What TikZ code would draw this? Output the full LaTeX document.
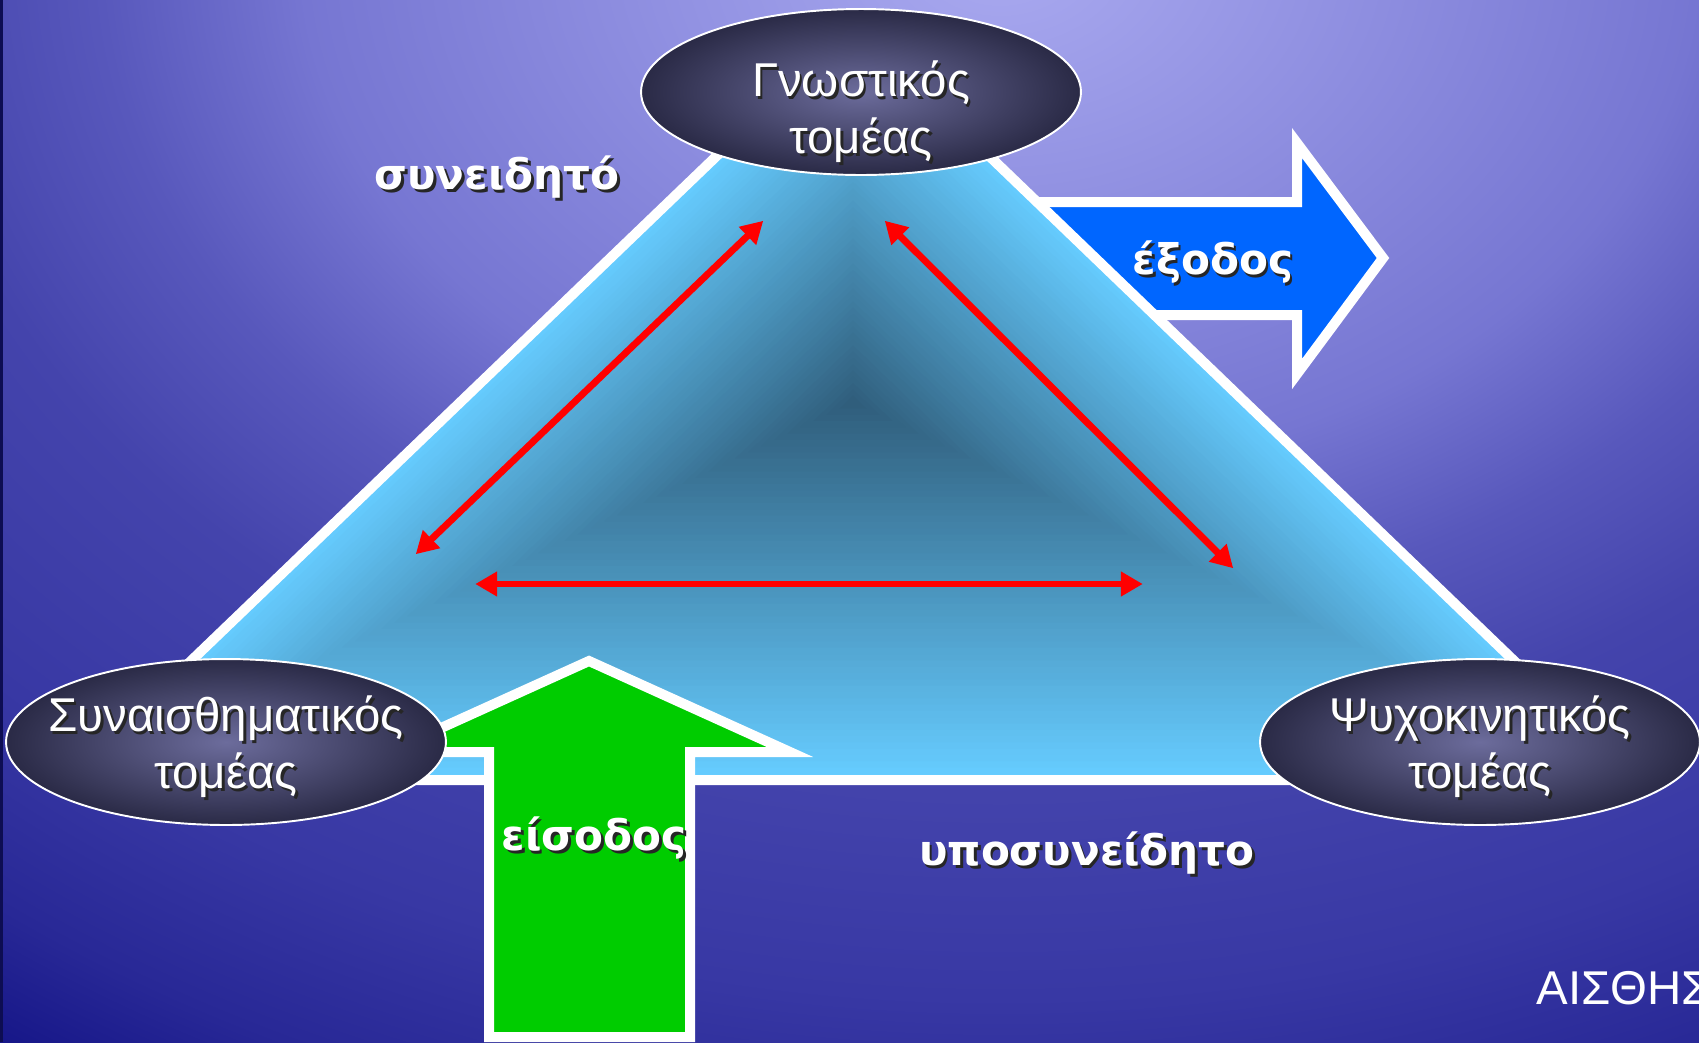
\documentclass[tikz,border=0pt]{standalone}
\usepackage{fontspec}
\setmainfont{Liberation Sans}
\newfontfamily\tagfont{DejaVu Sans}
\usepackage{xcolor}
\usetikzlibrary{arrows.meta,shapes.geometric,calc}
\definecolor{bgtop}{RGB}{170,170,240}
\definecolor{bgsoft}{RGB}{118,118,210}
\definecolor{bgmid}{RGB}{88,88,188}
\definecolor{bgdim}{RGB}{68,68,172}
\definecolor{bglow}{RGB}{56,56,164}
\definecolor{bgnight}{RGB}{40,40,150}
\definecolor{bgdeep}{RGB}{22,22,136}
\definecolor{trilight}{RGB}{102,204,255}
\definecolor{tridark}{RGB}{48,94,124}
\definecolor{domcore}{RGB}{108,108,156}
\definecolor{domrim}{RGB}{42,42,70}
\definecolor{outblue}{RGB}{0,102,255}
\definecolor{ingreen}{RGB}{0,204,0}
\definecolor{linkred}{RGB}{255,0,0}
\pgfdeclareradialshading{backdrop}{\pgfpoint{0bp}{0bp}}{color(0bp)=(bgtop); color(9.7bp)=(bgsoft); color(12.5bp)=(bgmid); color(15.3bp)=(bgdim); color(19.4bp)=(bglow); color(22.5bp)=(bgnight); color(24.6bp)=(bgdeep); color(50bp)=(bgdeep)}
\newcommand{\shadowtext}[4]{%
  \node[#1, text=black!85, xshift=1.5pt, yshift=-1.5pt] at (#3) {#4};
  \node[#1] (#2) at (#3) {#4};}

\begin{document}
\begin{tikzpicture}[x=0.02cm, y=-0.02cm,
  dom/.style={ellipse, draw=white, line width=1.1pt, inner color=domcore, outer color=domrim, minimum width=8.8cm, minimum height=3.32cm, inner sep=0pt},
  domtext/.style={align=center, text=white, inner sep=0pt, font=\fontsize{27}{32.5}\selectfont},
  tag/.style={text=white, inner sep=0pt, font=\tagfont\bfseries\fontsize{24}{28}\selectfont},
  bigarrow/.style={draw=white, line width=5.7pt, line join=miter},
  link/.style={linkred, line width=3.9pt, {Triangle[length=12.5pt, width=13.5pt]}-{Triangle[length=12.5pt, width=13.5pt]}, shorten <=-1pt, shorten >=-1pt},
]
\useasboundingbox (0,0) rectangle (1699,1042);
\begin{scope}
\clip (0,0) rectangle (1699,1042);
\shade[shading=backdrop] (1000,-50) ellipse [x radius=1800, y radius=1350];
\fill[bgdeep!60!black] (0,0) rectangle (2.5,1042);
\end{scope}

\coordinate (apex) at (853,25);
\coordinate (cornl) at (67,780);
\coordinate (cornr) at (1638,780);

\fill[bigarrow, fill=outblue] (1000,202) -- (1297,202) -- (1297,143) -- (1383,258) -- (1297,374) -- (1297,315) -- (1000,315) -- cycle;

\foreach \k in {0,...,59}{
  \pgfmathsetmacro\sc{1-\k/60}
  \pgfmathtruncatemacro\mix{100*(\k/59)}
  \fill[tridark!\mix!trilight, scale around={\sc:(853,402)}] (853,25) -- (67,780) -- (1638,780) -- cycle;
}
\draw[white, line width=5.7pt, line join=miter] (apex) -- (cornl) -- (cornr) -- cycle;

\coordinate (cl1) at (417,553);
\coordinate (cl2) at (762,222);
\coordinate (cr1) at (886,222);
\coordinate (cr2) at (1232,567);
\coordinate (cb1) at (477,584);
\coordinate (cb2) at (1141,584);
\draw[link] (cl1) -- (cl2);
\draw[link] (cr1) -- (cr2);
\draw[link] (cb1) -- (cb2);

\fill[bigarrow, fill=ingreen] (489,1037) -- (489,752) -- (388,752) -- (589,661) -- (790,752) -- (690,752) -- (690,1037) -- cycle;

\node[dom] (cog) at (861,92) {};
\node[dom] (aff) at (226,742) {};
\node[dom] (psy) at (1480,742) {};
\coordinate (cogmid) at (861,112);
\coordinate (affmid) at (226,747);
\coordinate (psymid) at (1480,747);
\shadowtext{domtext}{cogtxt}{cogmid}{Γνωστικός\\τομέας}
\shadowtext{domtext}{afftxt}{affmid}{Συναισθηματικός\\τομέας}
\shadowtext{domtext}{psytxt}{psymid}{Ψυχοκινητικός\\τομέας}

\shadowtext{tag}{conscious}{497,177}{συνειδητό}
\shadowtext{tag}{subconscious}{1087,853}{υποσυνείδητο}
\shadowtext{tag}{output}{1213,262}{έξοδος}
\shadowtext{tag}{input}{594,838}{είσοδος}
\node[domtext, anchor=west] (senses) at (1536,988) {ΑΙΣΘΗΣ};
\end{tikzpicture}
\end{document}
